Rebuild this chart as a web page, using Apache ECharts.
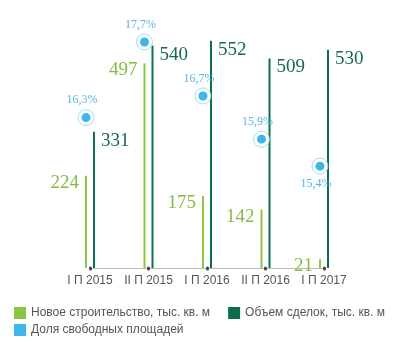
<!DOCTYPE html>
<html><head><meta charset="utf-8">
<script src="https://cdn.jsdelivr.net/npm/echarts@6/dist/echarts.min.js"></script>
<style>html,body{margin:0;padding:0;background:#fff}#c{width:395px;height:343px}</style>
</head><body><div id="c"></div>
<script>
var categories = ['I П 2015', 'II П 2015', 'I П 2016', 'II П 2016', 'I П 2017'];
var newConstruction = [224, 497, 175, 142, 21];
var dealVolume = [331, 540, 552, 509, 530];
var vacancyRate = [16.3, 17.7, 16.7, 15.9, 15.4];
var seriesNames = ['Новое строительство, тыс. кв. м', 'Объем сделок, тыс. кв. м', 'Доля свободных площадей'];

var LIGHT = '#8cc63f', DARK = '#0d6e4e', BLUE = '#0aa5e6';
var vacLabelPos = ['top', 'top', 'top', 'top', 'bottom'];
var serif = '"Liberation Serif", serif';

var chart = echarts.init(document.getElementById('c'), null, {renderer: 'canvas'});
chart.setOption({
  animation: false,
  grid: {left: 90, right: 71, top: 21, bottom: 75},
  legend: [{
    left: 9, top: 302, orient: 'horizontal', itemGap: 18, itemWidth: 12, itemHeight: 12,
    icon: 'rect', textStyle: {fontFamily: '"Liberation Sans", Arial', fontSize: 12, color: '#555'},
    data: [seriesNames[0], seriesNames[1]]
  }, {
    left: 9, top: 319, itemWidth: 12, itemHeight: 12, icon: 'rect',
    textStyle: {fontFamily: '"Liberation Sans", Arial', fontSize: 12, color: '#555'},
    data: [seriesNames[2]]
  }],
  xAxis: {
    type: 'category', data: categories, boundaryGap: false,
    axisLine: {lineStyle: {color: '#bbb', width: 1}},
    axisTick: {show: true, interval: 0, length: 1, lineStyle: {color: '#444', width: 3, cap: 'round'}},
    axisLabel: {interval: 0, color: '#555', fontSize: 12, fontFamily: '"Liberation Sans", Arial', margin: 7}
  },
  yAxis: [
    {type: 'value', min: 0, max: 600, show: false, splitLine: {show: false}},
    {type: 'value', min: 13.515, max: 18.088, show: false, splitLine: {show: false}}
  ],
  series: [
    {
      name: seriesNames[0], type: 'bar', data: newConstruction, barWidth: 2, barGap: '300%',
      itemStyle: {color: LIGHT},
      label: {show: true, position: [-6, 7], align: 'right', verticalAlign: 'middle',
        color: '#84bb48', fontFamily: serif, fontSize: 19}
    },
    {
      name: seriesNames[1], type: 'bar', data: dealVolume, barWidth: 2, barGap: '300%',
      itemStyle: {color: DARK},
      label: {show: true, position: [8, 9], align: 'left', verticalAlign: 'middle',
        color: '#17694a', fontFamily: serif, fontSize: 19}
    },
    {
      name: seriesNames[2] + ' ', type: 'scatter', yAxisIndex: 1, symbolSize: 16, symbolOffset: [-4, 0],
      itemStyle: {color: '#fff', borderColor: '#8fd5f2', borderWidth: 1},
      data: vacancyRate.map(function (v, i) {
        return {value: v, label: {position: vacLabelPos[i]}};
      }),
      label: {show: true, distance: 3, offset: [-4, 0], color: '#2aa3df', fontFamily: serif, fontSize: 12,
        formatter: function (p) { return String(p.value).replace('.', ',') + '%'; }},
      z: 3
    },
    {
      name: seriesNames[2], type: 'scatter', yAxisIndex: 1, symbolSize: 9, symbolOffset: [-4, 0],
      itemStyle: {color: BLUE}, data: vacancyRate, z: 4
    }
  ]
});
</script></body></html>
